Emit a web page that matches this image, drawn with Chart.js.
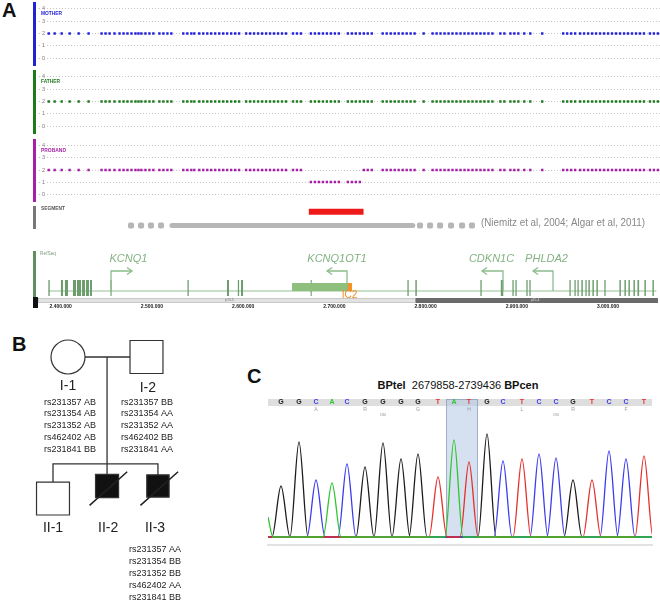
<!DOCTYPE html>
<html>
<head>
<meta charset="utf-8">
<title>KCNQ1OT1 deletion</title>
<script src="https://cdn.jsdelivr.net/npm/chart.js@4.4.1/dist/chart.umd.min.js"></script>
<style>
  body { margin: 0; background: #fff; }
  #fig { position: relative; width: 660px; height: 602px; overflow: hidden; font-family: 'Liberation Sans', Arial, sans-serif; }
  #fig canvas { position: absolute; }
  .tag { position: absolute; font: bold 20px 'Liberation Sans', Arial, sans-serif; color: #111; }
  #title { position: absolute; left: 330px; width: 256px; top: 379px; text-align: center; font: 11px 'Liberation Sans', Arial, sans-serif; color: #111; white-space: nowrap; }
</style>
</head>
<body>
<div id="fig">
  <div class="tag" style="left:2px;top:-1px">A</div>
  <div class="tag" style="left:12px;top:333px">B</div>
  <div class="tag" style="left:247px;top:365px">C</div>
  <div id="title"><b>BPtel</b>&nbsp; 2679858-2739436 <b>BPcen</b></div>
  <canvas id="mother" width="627" height="67" style="left:33px;top:0px"></canvas>
  <canvas id="father" width="627" height="67" style="left:33px;top:68px"></canvas>
  <canvas id="proband" width="627" height="66" style="left:33px;top:137px"></canvas>
  <canvas id="segment" width="627" height="26" style="left:33px;top:204px"></canvas>
  <canvas id="refseq" width="627" height="64" style="left:33px;top:250px"></canvas>
  <canvas id="pedigree" width="230" height="282" style="left:0px;top:320px"></canvas>
  <canvas id="trace" width="396" height="155" style="left:262px;top:395px"></canvas>
</div>
<script>
// ---------- panel A : chr11p15 positions in kb ----------
const X_MIN = 2385, X_MAX = 3057;

const snpLeft = [2386.9, 2393.4, 2401.1, 2409.8, 2419.7, 2430.6, 2444.8, 2449.2, 2453.6, 2459.0,
  2464.5, 2468.9, 2473.2, 2477.6, 2482.0, 2485.3, 2488.5, 2492.9, 2497.3, 2501.6, 2508.2, 2512.6,
  2517.0, 2521.3, 2534.4, 2538.8, 2543.2, 2546.5, 2551.9, 2556.3, 2560.7, 2565.0, 2569.4, 2573.8,
  2578.2, 2582.5, 2586.9, 2591.3, 2595.6, 2603.3, 2607.7, 2612.0, 2616.4, 2620.8, 2625.2, 2629.5,
  2633.9, 2638.3, 2642.6, 2647.0, 2654.7, 2659.0, 2663.4];
const snpDel = [2674.3, 2678.7, 2683.1, 2687.5, 2691.8, 2696.2, 2700.6, 2704.9, 2714.8, 2719.2,
  2723.5, 2727.9];
const snpRight = [2732.3, 2736.6, 2741.0, 2753.0, 2757.4, 2761.8, 2766.2, 2770.5, 2774.9, 2779.3,
  2783.6, 2788.0, 2797.9, 2807.7, 2812.1, 2816.4, 2820.8, 2825.2, 2829.5, 2833.9, 2838.3, 2842.7,
  2847.0, 2851.4, 2855.8, 2860.2, 2864.5, 2868.9, 2873.3, 2882.0, 2886.4, 2893.0, 2897.3, 2901.7,
  2908.2, 2914.8, 2927.9, 2950.9, 2955.2, 2959.6, 2964.0, 2969.4, 2973.8, 2978.2, 2982.6, 2986.9,
  2991.3, 2995.7, 3000.1, 3004.4, 3008.8, 3013.2, 3017.6, 3021.9, 3026.3, 3030.7, 3035.0, 3039.4,
  3046.0, 3050.3, 3054.7];
const normalCopies = 2, deletedCopies = 1;

const delSegment = [2672, 2732];
const litSegment = [2522, 2786];
const litDots = [2477.1, 2488.1, 2499.0, 2510.0, 2793.9, 2804.9, 2815.9, 2827.9, 2840.0, 2850.9];
const litRef = '(Niemitz et al, 2004; Algar et al, 2011)';

const geneSpan = [2386.5, 3053];
const exons = [[2386.5, 2388.0], [2400.3, 2402.5], [2404.7, 2408.0], [2413.5, 2416.8], [2417.9, 2422.3],
  [2423.4, 2426.7], [2427.8, 2431.0], [2432.1, 2434.3], [2454.6, 2455.8], [2539.0, 2540.4],
  [2582.3, 2584.5], [2594.2, 2595.6], [2597.7, 2599.9], [2674.0, 2675.2], [2780.1, 2781.5],
  [2788.8, 2790.4], [2860.1, 2861.5], [2882.5, 2885.2], [2895.2, 2896.6], [2898.5, 2899.9],
  [2910.5, 2911.9], [2913.8, 2915.2], [2957.7, 2959.1], [2963.2, 2964.6], [2966.5, 2967.9],
  [2970.8, 2972.4], [2975.2, 2976.6], [2978.5, 2980.1], [2982.9, 2984.5], [2987.3, 2988.9],
  [2996.0, 2997.4], [3012.5, 3014.1], [3018.0, 3019.6], [3022.4, 3024.0], [3027.9, 3029.5],
  [3032.3, 3034.1], [3039.9, 3041.5], [3048.7, 3050.3]];
const ot1Box = [2653.6, 2713.9];
const ic2Box = [2713.9, 2719.4];
const genes = ['KCNQ1', 'KCNQ1OT1', 'CDKN1C', 'PHLDA2'];
const geneTss = [2455.2, 2713.9, 2884.9, 2939.7];
const geneArrowEnd = [2478.2, 2692.0, 2861.9, 2917.8];
const geneLabelAt = [2474.3, 2702.9, 2872.3, 2932.6];
const bands = ['p15.5', 'p15.4'];
const bandSplit = 2789;
const bandLabelAt = [2585, 2920];

// ---------- panel B : pedigree ----------
const people = ['I-1', 'I-2', 'II-1', 'II-2', 'II-3'];
const sex = ['F', 'M', 'M', 'M', 'M'];
const affected = [false, false, false, true, true];
const deceased = [false, false, false, true, true];
const snpIds = ['rs231357', 'rs231354', 'rs231352', 'rs462402', 'rs231841'];
const genoI1 = ['AB', 'AB', 'AB', 'AB', 'BB'];
const genoI2 = ['BB', 'AA', 'AA', 'BB', 'AA'];
const genoII3 = ['AA', 'BB', 'BB', 'AA', 'BB'];

// ---------- panel C : sequence trace ----------
const bases = ['G', 'G', 'C', 'A', 'C', 'G', 'G', 'G', 'G', 'T', 'A', 'T', 'G', 'C', 'T', 'C', 'C', 'G', 'T', 'C', 'C', 'T'];
const peakScan = [13, 31, 48, 64, 79, 97, 115, 133, 150, 170, 186, 201, 219, 235, 254, 271, 288, 305, 324, 341, 358, 376];
const peakHeight = [51, 95, 57, 54, 73, 70, 94, 78, 83, 60, 97, 75, 103, 76, 78, 83, 79, 57, 57, 86, 78, 81];
const leadA = [[0, 20], [5, 0]];
const aminoAcids = ['A', 'R', 'G', 'H', 'L', 'R', 'F'];
const codonCentre = [2, 5, 8, 11, 14, 17, 20];
const residueNumbers = [180, 190];
const residueBase = [6, 16];
const junction = [10, 11];

Chart.defaults.font.family = "'Liberation Sans', Arial, sans-serif";
const base = { responsive: false, animation: false, events: [] };
const noLegend = { legend: { display: false }, tooltip: { enabled: false } };

// colored side bar + track name
const trackTag = {
  id: 'trackTag',
  afterDraw(chart, args, o) {
    const c = chart.ctx;
    c.save();
    c.fillStyle = o.color;
    c.fillRect(0, 2, 3, (o.barH || chart.height - 3));
    if (o.name) {
      c.fillStyle = o.textColor || o.color;
      c.font = "bold 5.5px 'Liberation Sans', Arial";
      c.textBaseline = 'middle';
      c.fillText(o.name, 8, o.nameY, o.nameW);
    }
    c.restore();
  }
};

function cnTrack(id, name, color, series, nameW) {
  new Chart(document.getElementById(id), {
    type: 'scatter',
    data: {
      datasets: series.map(s => ({
        data: s.pos.map(p => ({ x: p, y: s.cn })),
        pointStyle: 'rect', pointRadius: 1.7, pointBorderWidth: 0, backgroundColor: color
      }))
    },
    options: {
      ...base,
      layout: { autoPadding: false, padding: { top: 3 } },
      plugins: { ...noLegend, trackTag: { name, color, nameY: 13, nameW } },
      scales: {
        x: { type: 'linear', min: X_MIN, max: X_MAX, display: false },
        y: {
          min: -0.3, max: 4.3,
          afterFit: s => { s.width = 14; },
          border: { display: false, dash: [1, 2] },
          grid: { color: '#c6c6c6', drawTicks: false },
          ticks: { stepSize: 1, includeBounds: false, padding: 2, color: '#777', font: { size: 5.5 }, callback: v => '- ' + v }
        }
      }
    },
    plugins: [trackTag]
  });
}

const allSnps = [snpLeft, snpDel, snpRight].map(pos => ({ pos, cn: normalCopies }));
cnTrack('mother', 'MOTHER', '#2121d8', allSnps, 21);
cnTrack('father', 'FATHER', '#1d7a1d', allSnps, 19);
cnTrack('proband', 'PROBAND', '#a61fa6', [
  { pos: snpLeft, cn: normalCopies }, { pos: snpDel, cn: deletedCopies }, { pos: snpRight, cn: normalCopies }
], 25);

// segment track
const segText = {
  id: 'segText',
  afterDraw(chart) {
    const c = chart.ctx, x = chart.scales.x, y = chart.scales.y;
    c.save();
    c.fillStyle = '#888';
    c.font = "11px 'Liberation Sans', Arial";
    c.textBaseline = 'middle';
    c.fillText(litRef, x.getPixelForValue(litDots[litDots.length - 1]) + 9, y.getPixelForValue(0.35) - 2, 164);
    c.restore();
  }
};
new Chart(document.getElementById('segment'), {
  type: 'scatter',
  data: {
    datasets: [
      { data: delSegment.map(x => ({ x, y: 1.4 })), showLine: true, borderColor: '#ee1a1a', borderWidth: 6, borderCapStyle: 'butt', pointRadius: 0 },
      { data: litSegment.map(x => ({ x, y: 0.35 })), showLine: true, borderColor: '#b6b6b6', borderWidth: 5, borderCapStyle: 'round', pointRadius: 0 },
      { data: litDots.map(x => ({ x, y: 0.35 })), pointStyle: 'rectRounded', pointRadius: 3.5, pointBorderWidth: 0, backgroundColor: '#b6b6b6' }
    ]
  },
  options: {
    ...base,
    layout: { autoPadding: false, padding: { left: 14 } },
    plugins: { ...noLegend, trackTag: { name: 'SEGMENT', color: '#777', textColor: '#555', nameY: 4, nameW: 24 } },
    scales: { x: { type: 'linear', min: X_MIN, max: X_MAX, display: false }, y: { min: 0, max: 2, display: false } }
  },
  plugins: [trackTag, segText]
});

// RefSeq genes
const GL = 7, EX = 10, ARROW = 27;
const brk = x => ({ x, y: null });
const exonPts = exons.flatMap(e => [{ x: e[0], y: EX }, { x: e[1], y: EX }, brk(e[1])]);
const stemPts = genes.flatMap((g, i) => [{ x: geneTss[i], y: GL }, { x: geneTss[i], y: ARROW }, { x: geneArrowEnd[i], y: ARROW }, brk(geneArrowEnd[i])]);
const headPts = genes.flatMap((g, i) => {
  const d = geneArrowEnd[i] > geneTss[i] ? 1 : -1, t = geneArrowEnd[i];
  return [{ x: t - d * 5.5, y: ARROW + 3.5 }, { x: t, y: ARROW }, { x: t - d * 5.5, y: ARROW - 3.5 }, brk(t)];
});
const fmtPos = v => String(Math.round(v * 1000)).replace(/\B(?=(\d{3})+(?!\d))/g, '.');

const refDecor = {
  id: 'refDecor',
  afterDraw(chart) {
    const c = chart.ctx, x = chart.scales.x, y = chart.scales.y, a = chart.chartArea;
    c.save();
    c.fillStyle = '#5f8f5f';
    c.fillRect(0, 1, 3, 46);
    c.fillStyle = '#7f9a7f';
    c.font = "5px 'Liberation Sans', Arial";
    c.textBaseline = 'middle';
    c.fillText('RefSeq', 7, 4, 16);
    // chromosome band
    const split = x.getPixelForValue(bandSplit);
    c.fillStyle = '#e2e2e2';
    c.fillRect(5, a.bottom, split - 5, 5);
    c.strokeStyle = '#b8b8b8';
    c.lineWidth = 0.6;
    c.strokeRect(5.5, a.bottom + 0.5, split - 5.5, 4);
    c.fillStyle = '#6b6b6b';
    c.fillRect(split, a.bottom, chart.width - split - 2, 5);
    c.fillStyle = '#111';
    c.fillRect(0, a.bottom - 1, 5, 11);
    c.font = "3.5px 'Liberation Sans', Arial";
    c.textAlign = 'center';
    c.fillStyle = '#777';
    c.fillText(bands[0], x.getPixelForValue(bandLabelAt[0]), a.bottom + 2.5);
    c.fillStyle = '#ddd';
    c.fillText(bands[1], x.getPixelForValue(bandLabelAt[1]), a.bottom + 2.5);
    // gene names
    c.font = "italic 11px 'Liberation Sans', Arial";
    c.fillStyle = '#82b282';
    genes.forEach((g, i) => c.fillText(g, x.getPixelForValue(geneLabelAt[i]), y.getPixelForValue(39)));
    c.font = "10px 'Liberation Sans', Arial";
    c.fillStyle = '#f08b22';
    c.fillText('IC2', x.getPixelForValue((ic2Box[0] + ic2Box[1]) / 2), y.getPixelForValue(3));
    c.restore();
  }
};

new Chart(document.getElementById('refseq'), {
  type: 'scatter',
  data: {
    datasets: [
      { data: headPts, showLine: true, borderColor: '#8cbc8c', borderWidth: 1.3, pointRadius: 0 },
      { data: stemPts, showLine: true, borderColor: '#8cbc8c', borderWidth: 1.3, pointRadius: 0 },
      { data: ic2Box.map(x => ({ x, y: 11 })), showLine: true, borderColor: '#f39226', borderWidth: 8, borderCapStyle: 'butt', pointRadius: 0 },
      { data: ot1Box.map(x => ({ x, y: 11 })), showLine: true, borderColor: '#8fbf7c', borderWidth: 8, borderCapStyle: 'butt', pointRadius: 0 },
      { data: exonPts, showLine: true, borderColor: '#6d9d6d', borderWidth: 16, borderCapStyle: 'butt', pointRadius: 0 },
      { data: geneSpan.map(x => ({ x, y: GL })), showLine: true, borderColor: '#93bf93', borderWidth: 1, pointRadius: 0 }
    ]
  },
  options: {
    ...base,
    layout: { autoPadding: false, padding: { left: 14 } },
    plugins: noLegend,
    scales: {
      x: {
        type: 'linear', min: X_MIN, max: X_MAX,
        afterFit: s => { s.height = 16; },
        grid: { display: false }, border: { display: false },
        ticks: { stepSize: 100, includeBounds: false, autoSkip: false, maxRotation: 0, padding: -2, color: '#222', font: { size: 5, weight: 'bold' }, callback: fmtPos }
      },
      y: { min: 0, max: 48, display: false }
    }
  },
  plugins: [refDecor]
});

// ---------- pedigree ----------
const col = [1.283, 2.764, 1.0, 2.02, 2.98];
const gen = [1, 1, 2.097, 2.0, 2.0];
const symR = [17, 23.3, 23.3, 16.3, 15.8];
const SIB = 1.829;
const pedLines = [
  { x: col[0], y: 1 }, { x: col[1], y: 1 }, brk(col[1]),
  { x: 2.02, y: 1 }, { x: 2.02, y: SIB }, brk(2.02),
  { x: col[2], y: gen[2] }, { x: col[2], y: SIB }, { x: col[4], y: SIB }, { x: col[4], y: gen[4] }, brk(col[4]),
  { x: col[3], y: SIB }, { x: col[3], y: gen[3] }, brk(col[3])
];
const slashPts = people.flatMap((p, i) => deceased[i]
  ? [{ x: col[i] - 0.33, y: gen[i] + 0.15 }, { x: col[i] + 0.38, y: gen[i] - 0.11 }, brk(col[i])] : []);

const pedText = {
  id: 'pedText',
  afterDraw(chart) {
    const c = chart.ctx, x = chart.scales.x, y = chart.scales.y;
    c.save();
    c.fillStyle = '#222';
    c.textAlign = 'center';
    c.textBaseline = 'middle';
    c.font = "14px 'Liberation Sans', Arial";
    const labelY = [1.225, 1.24, 2.326, 2.326, 2.326];
    const labelX = [1.283, 2.79, 1.0, 2.04, 2.925];
    people.forEach((p, i) => c.fillText(p, x.getPixelForValue(labelX[i]), y.getPixelForValue(labelY[i])));
    c.font = "9px 'Liberation Sans', Arial";
    const lists = [[genoI1, 1.32, 1.349], [genoI2, 2.774, 1.349], [genoII3, 2.925, 2.496]];
    lists.forEach(([g, cx, gy]) => snpIds.forEach((s, k) =>
      c.fillText(s + ' ' + g[k], x.getPixelForValue(cx), y.getPixelForValue(gy + k * 0.0915))));
    c.restore();
  }
};

new Chart(document.getElementById('pedigree'), {
  type: 'scatter',
  data: {
    datasets: [
      { data: slashPts, showLine: true, borderColor: '#222', borderWidth: 1.5, pointRadius: 0 },
      {
        data: col.map((cx, i) => ({ x: cx, y: gen[i] })),
        pointStyle: sex.map(s => s === 'F' ? 'circle' : 'rect'),
        pointRadius: symR,
        backgroundColor: affected.map(a => a ? '#111' : '#fff'),
        borderColor: '#333', pointBorderWidth: 1.2
      },
      { data: pedLines, showLine: true, borderColor: '#333', borderWidth: 1.3, pointRadius: 0 }
    ]
  },
  options: {
    ...base,
    layout: { autoPadding: false },
    plugins: noLegend,
    scales: {
      x: { type: 'linear', min: 0, max: 230 / 53, display: false },
      y: { type: 'linear', reverse: true, min: 1 - 37 / 129, max: 1 + 245 / 129, display: false }
    }
  },
  plugins: [pedText]
});

// ---------- chromatogram ----------
const baseColor = { G: '#1c1c1c', C: '#3b3bf0', A: '#2fc62f', T: '#e6302b' };
function channel(b) {
  const pts = b === 'A' ? leadA.map(([x, y]) => ({ x, y })) : [{ x: 0, y: 0 }];
  bases.forEach((s, i) => {
    if (s === b) pts.push({ x: peakScan[i] - 9, y: 0 }, { x: peakScan[i], y: peakHeight[i] }, { x: peakScan[i] + 9, y: 0 });
  });
  pts.push({ x: 384, y: 0 });
  return pts;
}

const traceDecor = {
  id: 'traceDecor',
  beforeDatasetsDraw(chart) {
    const c = chart.ctx, x = chart.scales.x, y = chart.scales.y;
    const x0 = x.getPixelForValue(0), x1 = x.getPixelForValue(384);
    c.save();
    c.fillStyle = '#dedede';
    c.fillRect(x0, 4, x1 - x0, 7);
    const hl0 = x.getPixelForValue((peakScan[junction[0] - 1] + peakScan[junction[0]]) / 2);
    const hl1 = x.getPixelForValue((peakScan[junction[1]] + peakScan[junction[1] + 1]) / 2);
    c.fillStyle = 'rgba(178,198,228,0.55)';
    c.fillRect(hl0, 4, hl1 - hl0, y.getPixelForValue(0) - 4);
    c.strokeStyle = 'rgba(120,140,175,0.7)';
    c.lineWidth = 0.8;
    c.strokeRect(hl0 + 0.5, 4.5, hl1 - hl0 - 1, y.getPixelForValue(0) - 5);
    c.textAlign = 'center';
    c.textBaseline = 'middle';
    c.font = "bold 7px 'Liberation Sans', Arial";
    bases.forEach((s, i) => { c.fillStyle = baseColor[s]; c.fillText(s, x.getPixelForValue(peakScan[i]), 7.5); });
    c.fillStyle = '#999';
    c.font = "5px 'Liberation Sans', Arial";
    aminoAcids.forEach((a, i) => c.fillText(a, x.getPixelForValue(peakScan[codonCentre[i]]), 15));
    c.font = "4px 'Liberation Sans', Arial";
    residueNumbers.forEach((n, i) => c.fillText(n, x.getPixelForValue(peakScan[residueBase[i]]), 19.5));
    c.restore();
  }
};

new Chart(document.getElementById('trace'), {
  type: 'scatter',
  data: {
    datasets: ['A', 'T', 'C', 'G'].map(b => ({
      data: channel(b), showLine: true, cubicInterpolationMode: 'monotone',
      borderColor: baseColor[b], borderWidth: 1.3, pointRadius: 0
    }))
  },
  options: {
    ...base,
    layout: { autoPadding: false, padding: { left: 6, right: 6, top: 20, bottom: 5 } },
    plugins: noLegend,
    scales: {
      x: {
        type: 'linear', min: 0, max: 384,
        afterFit: s => { s.height = 0; },
        grid: { display: false }, ticks: { display: false },
        border: { color: '#e2e2e2', width: 2 }
      },
      y: { min: -8, max: 122, display: false }
    }
  },
  plugins: [traceDecor]
});
</script>
</body>
</html>
